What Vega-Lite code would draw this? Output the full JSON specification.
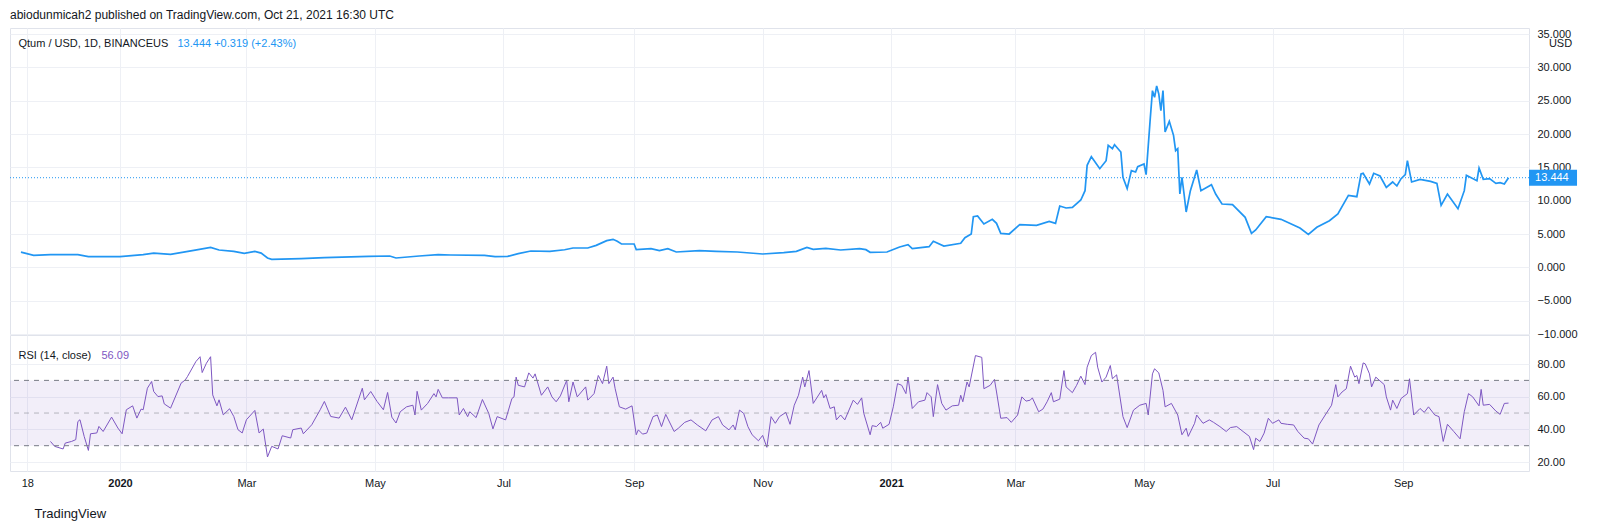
{
  "$schema": "https://vega.github.io/schema/vega-lite/v6.json",
  "background": "#ffffff",
  "padding": {"left": 9, "top": 8, "right": 0, "bottom": 0},
  "bounds": "flush",
  "spacing": 1,
  "title": {"text": "abiodunmicah2 published on TradingView.com, Oct 21, 2021 16:30 UTC", "anchor": "start", "fontSize": 12, "fontWeight": "normal", "color": "#131722", "offset": 6, "dx": 1},
  "config": {
    "font": "Liberation Sans",
    "view": {"stroke": "#e0e3eb", "strokeWidth": 1},
    "axis": {"gridColor": "#eef0f5", "gridWidth": 1, "labelColor": "#131722", "labelFontSize": 11, "labelFont": "Liberation Sans", "titleFont": "Liberation Sans", "ticks": false, "domain": false, "labelOverlap": false}
  },
  "datasets": {
    "price": [
      {"d": "2019-11-15", "p": 2.29}, {"d": "2019-11-21", "p": 1.8}, {"d": "2019-11-29", "p": 1.9}, {"d": "2019-12-12", "p": 1.9}, {"d": "2019-12-17", "p": 1.6},
      {"d": "2020-01-01", "p": 1.6}, {"d": "2020-01-12", "p": 1.9}, {"d": "2020-01-17", "p": 2.14}, {"d": "2020-01-25", "p": 1.95}, {"d": "2020-02-05", "p": 2.54},
      {"d": "2020-02-13", "p": 3.0}, {"d": "2020-02-17", "p": 2.6}, {"d": "2020-02-24", "p": 2.4}, {"d": "2020-02-29", "p": 2.1}, {"d": "2020-03-05", "p": 2.4},
      {"d": "2020-03-08", "p": 2.14}, {"d": "2020-03-11", "p": 1.4}, {"d": "2020-03-13", "p": 1.2}, {"d": "2020-03-27", "p": 1.3}, {"d": "2020-04-07", "p": 1.45},
      {"d": "2020-04-28", "p": 1.65}, {"d": "2020-05-08", "p": 1.7}, {"d": "2020-05-11", "p": 1.4}, {"d": "2020-05-22", "p": 1.7}, {"d": "2020-05-31", "p": 1.9},
      {"d": "2020-06-06", "p": 1.85}, {"d": "2020-06-22", "p": 1.8}, {"d": "2020-06-27", "p": 1.6}, {"d": "2020-07-03", "p": 1.65}, {"d": "2020-07-08", "p": 2.05},
      {"d": "2020-07-14", "p": 2.45}, {"d": "2020-07-23", "p": 2.4}, {"d": "2020-07-30", "p": 2.64}, {"d": "2020-08-03", "p": 2.9}, {"d": "2020-08-10", "p": 2.9},
      {"d": "2020-08-14", "p": 3.3}, {"d": "2020-08-19", "p": 4.0}, {"d": "2020-08-22", "p": 4.2}, {"d": "2020-08-24", "p": 3.9}, {"d": "2020-08-26", "p": 3.5},
      {"d": "2020-09-01", "p": 3.5}, {"d": "2020-09-02", "p": 2.65}, {"d": "2020-09-09", "p": 2.8}, {"d": "2020-09-13", "p": 2.5}, {"d": "2020-09-17", "p": 2.8},
      {"d": "2020-09-21", "p": 2.3}, {"d": "2020-10-02", "p": 2.5}, {"d": "2020-10-10", "p": 2.4}, {"d": "2020-10-20", "p": 2.3}, {"d": "2020-11-01", "p": 2.0},
      {"d": "2020-11-11", "p": 2.2}, {"d": "2020-11-17", "p": 2.4}, {"d": "2020-11-22", "p": 3.0}, {"d": "2020-11-25", "p": 2.7}, {"d": "2020-12-01", "p": 2.85},
      {"d": "2020-12-08", "p": 2.6}, {"d": "2020-12-17", "p": 2.8}, {"d": "2020-12-20", "p": 2.65}, {"d": "2020-12-22", "p": 2.25}, {"d": "2020-12-30", "p": 2.3},
      {"d": "2021-01-05", "p": 3.05}, {"d": "2021-01-09", "p": 3.4}, {"d": "2021-01-11", "p": 2.8}, {"d": "2021-01-19", "p": 3.1}, {"d": "2021-01-21", "p": 3.9},
      {"d": "2021-01-26", "p": 3.2}, {"d": "2021-02-03", "p": 3.6}, {"d": "2021-02-05", "p": 4.45}, {"d": "2021-02-08", "p": 5.0}, {"d": "2021-02-09", "p": 7.6},
      {"d": "2021-02-11", "p": 7.7}, {"d": "2021-02-14", "p": 6.5}, {"d": "2021-02-18", "p": 7.2}, {"d": "2021-02-20", "p": 6.6}, {"d": "2021-02-22", "p": 5.1},
      {"d": "2021-02-26", "p": 5.0}, {"d": "2021-03-03", "p": 6.4}, {"d": "2021-03-11", "p": 6.3}, {"d": "2021-03-17", "p": 6.9}, {"d": "2021-03-20", "p": 6.6},
      {"d": "2021-03-22", "p": 9.2}, {"d": "2021-03-25", "p": 8.9}, {"d": "2021-03-28", "p": 9.0}, {"d": "2021-04-01", "p": 10.1}, {"d": "2021-04-03", "p": 11.5},
      {"d": "2021-04-04", "p": 15.3}, {"d": "2021-04-06", "p": 16.6}, {"d": "2021-04-10", "p": 14.8}, {"d": "2021-04-13", "p": 16.0}, {"d": "2021-04-14", "p": 18.3},
      {"d": "2021-04-16", "p": 17.8}, {"d": "2021-04-17", "p": 18.4}, {"d": "2021-04-20", "p": 17.3}, {"d": "2021-04-21", "p": 13.5}, {"d": "2021-04-23", "p": 11.8},
      {"d": "2021-04-25", "p": 14.5}, {"d": "2021-04-27", "p": 14.3}, {"d": "2021-04-28", "p": 15.1}, {"d": "2021-05-01", "p": 15.5}, {"d": "2021-05-02", "p": 13.9},
      {"d": "2021-05-04", "p": 22.5}, {"d": "2021-05-05", "p": 26.5}, {"d": "2021-05-06", "p": 25.5}, {"d": "2021-05-07", "p": 27.2}, {"d": "2021-05-08", "p": 26.0},
      {"d": "2021-05-09", "p": 23.5}, {"d": "2021-05-10", "p": 26.5}, {"d": "2021-05-11", "p": 20.3}, {"d": "2021-05-13", "p": 21.9}, {"d": "2021-05-15", "p": 19.8},
      {"d": "2021-05-16", "p": 17.5}, {"d": "2021-05-17", "p": 17.8}, {"d": "2021-05-18", "p": 11.0}, {"d": "2021-05-19", "p": 13.5}, {"d": "2021-05-20", "p": 11.0},
      {"d": "2021-05-21", "p": 8.3}, {"d": "2021-05-23", "p": 11.5}, {"d": "2021-05-26", "p": 14.6}, {"d": "2021-05-28", "p": 11.5}, {"d": "2021-06-02", "p": 12.4},
      {"d": "2021-06-04", "p": 11.0}, {"d": "2021-06-07", "p": 9.5}, {"d": "2021-06-12", "p": 9.4}, {"d": "2021-06-18", "p": 7.5}, {"d": "2021-06-21", "p": 5.1},
      {"d": "2021-06-23", "p": 5.6}, {"d": "2021-06-28", "p": 7.6}, {"d": "2021-07-05", "p": 7.2}, {"d": "2021-07-14", "p": 5.9}, {"d": "2021-07-18", "p": 4.95},
      {"d": "2021-07-22", "p": 6.0}, {"d": "2021-07-28", "p": 7.0}, {"d": "2021-08-01", "p": 8.0}, {"d": "2021-08-06", "p": 10.8}, {"d": "2021-08-10", "p": 10.6},
      {"d": "2021-08-12", "p": 14.0}, {"d": "2021-08-13", "p": 14.1}, {"d": "2021-08-16", "p": 12.5}, {"d": "2021-08-18", "p": 14.1}, {"d": "2021-08-21", "p": 13.7},
      {"d": "2021-08-24", "p": 12.0}, {"d": "2021-08-27", "p": 12.8}, {"d": "2021-08-29", "p": 12.2}, {"d": "2021-08-31", "p": 13.3}, {"d": "2021-09-02", "p": 13.9},
      {"d": "2021-09-03", "p": 16.0}, {"d": "2021-09-05", "p": 12.8}, {"d": "2021-09-09", "p": 13.2}, {"d": "2021-09-14", "p": 12.9}, {"d": "2021-09-17", "p": 12.6},
      {"d": "2021-09-19", "p": 9.3}, {"d": "2021-09-22", "p": 11.0}, {"d": "2021-09-27", "p": 8.8}, {"d": "2021-09-30", "p": 11.5}, {"d": "2021-10-01", "p": 13.8},
      {"d": "2021-10-06", "p": 13.0}, {"d": "2021-10-07", "p": 14.9}, {"d": "2021-10-09", "p": 13.2}, {"d": "2021-10-12", "p": 13.3}, {"d": "2021-10-15", "p": 12.6},
      {"d": "2021-10-17", "p": 12.7}, {"d": "2021-10-19", "p": 12.5}, {"d": "2021-10-21", "p": 13.444}
    ],
    "rsi": [
      {"d": "2019-11-29", "r": 32.6}, {"d": "2019-12-01", "r": 29.6}, {"d": "2019-12-05", "r": 28.0}, {"d": "2019-12-06", "r": 31.6}, {"d": "2019-12-09", "r": 32.6},
      {"d": "2019-12-11", "r": 33.7}, {"d": "2019-12-12", "r": 44.8}, {"d": "2019-12-13", "r": 45.9}, {"d": "2019-12-15", "r": 35.7}, {"d": "2019-12-17", "r": 27.1},
      {"d": "2019-12-18", "r": 37.3}, {"d": "2019-12-21", "r": 37.8}, {"d": "2019-12-22", "r": 41.8}, {"d": "2019-12-24", "r": 38.7}, {"d": "2019-12-28", "r": 47.5},
      {"d": "2019-12-31", "r": 40.8}, {"d": "2020-01-02", "r": 37.3}, {"d": "2020-01-04", "r": 52.0}, {"d": "2020-01-07", "r": 54.4}, {"d": "2020-01-09", "r": 46.9},
      {"d": "2020-01-11", "r": 52.4}, {"d": "2020-01-12", "r": 52.0}, {"d": "2020-01-14", "r": 65.2}, {"d": "2020-01-15", "r": 67.3}, {"d": "2020-01-16", "r": 69.3},
      {"d": "2020-01-17", "r": 63.2}, {"d": "2020-01-19", "r": 60.1}, {"d": "2020-01-21", "r": 60.5}, {"d": "2020-01-22", "r": 55.6}, {"d": "2020-01-25", "r": 53.0},
      {"d": "2020-01-30", "r": 68.3}, {"d": "2020-02-01", "r": 70.3}, {"d": "2020-02-02", "r": 72.3}, {"d": "2020-02-06", "r": 81.5}, {"d": "2020-02-08", "r": 84.5},
      {"d": "2020-02-09", "r": 74.8}, {"d": "2020-02-11", "r": 80.5}, {"d": "2020-02-13", "r": 84.5}, {"d": "2020-02-14", "r": 61.1}, {"d": "2020-02-16", "r": 54.4},
      {"d": "2020-02-17", "r": 58.1}, {"d": "2020-02-19", "r": 48.9}, {"d": "2020-02-22", "r": 52.6}, {"d": "2020-02-24", "r": 47.9}, {"d": "2020-02-26", "r": 39.8},
      {"d": "2020-02-28", "r": 37.8}, {"d": "2020-03-01", "r": 45.9}, {"d": "2020-03-05", "r": 51.6}, {"d": "2020-03-07", "r": 37.8}, {"d": "2020-03-09", "r": 40.2},
      {"d": "2020-03-11", "r": 23.1}, {"d": "2020-03-13", "r": 29.6}, {"d": "2020-03-16", "r": 28.0}, {"d": "2020-03-18", "r": 36.1}, {"d": "2020-03-22", "r": 34.7},
      {"d": "2020-03-23", "r": 39.8}, {"d": "2020-03-27", "r": 40.8}, {"d": "2020-03-28", "r": 37.3}, {"d": "2020-04-01", "r": 42.8}, {"d": "2020-04-05", "r": 52.0},
      {"d": "2020-04-07", "r": 57.1}, {"d": "2020-04-10", "r": 47.9}, {"d": "2020-04-14", "r": 46.9}, {"d": "2020-04-17", "r": 53.6}, {"d": "2020-04-20", "r": 45.9},
      {"d": "2020-04-25", "r": 65.2}, {"d": "2020-04-26", "r": 58.1}, {"d": "2020-04-29", "r": 63.2}, {"d": "2020-05-02", "r": 57.1}, {"d": "2020-05-05", "r": 52.0},
      {"d": "2020-05-07", "r": 62.6}, {"d": "2020-05-09", "r": 47.5}, {"d": "2020-05-11", "r": 43.9}, {"d": "2020-05-13", "r": 50.8}, {"d": "2020-05-16", "r": 53.8},
      {"d": "2020-05-19", "r": 54.8}, {"d": "2020-05-20", "r": 48.8}, {"d": "2020-05-21", "r": 63.3}, {"d": "2020-05-23", "r": 51.8}, {"d": "2020-05-26", "r": 55.9},
      {"d": "2020-05-29", "r": 61.9}, {"d": "2020-05-30", "r": 59.9}, {"d": "2020-05-31", "r": 64.5}, {"d": "2020-06-02", "r": 59.3}, {"d": "2020-06-05", "r": 59.3},
      {"d": "2020-06-09", "r": 59.3}, {"d": "2020-06-10", "r": 48.8}, {"d": "2020-06-12", "r": 52.8}, {"d": "2020-06-14", "r": 47.8}, {"d": "2020-06-15", "r": 50.8},
      {"d": "2020-06-18", "r": 47.2}, {"d": "2020-06-21", "r": 58.3}, {"d": "2020-06-24", "r": 49.8}, {"d": "2020-06-26", "r": 40.3}, {"d": "2020-06-28", "r": 47.8},
      {"d": "2020-07-02", "r": 45.8}, {"d": "2020-07-05", "r": 58.9}, {"d": "2020-07-06", "r": 59.9}, {"d": "2020-07-07", "r": 72.0}, {"d": "2020-07-08", "r": 67.0},
      {"d": "2020-07-11", "r": 66.0}, {"d": "2020-07-13", "r": 74.6}, {"d": "2020-07-15", "r": 71.4}, {"d": "2020-07-16", "r": 74.0}, {"d": "2020-07-19", "r": 60.9},
      {"d": "2020-07-22", "r": 66.0}, {"d": "2020-07-24", "r": 59.9}, {"d": "2020-07-26", "r": 56.9}, {"d": "2020-07-28", "r": 60.5}, {"d": "2020-07-31", "r": 70.0},
      {"d": "2020-08-01", "r": 56.9}, {"d": "2020-08-03", "r": 69.0}, {"d": "2020-08-05", "r": 59.9}, {"d": "2020-08-09", "r": 66.0}, {"d": "2020-08-10", "r": 57.9},
      {"d": "2020-08-13", "r": 61.9}, {"d": "2020-08-15", "r": 73.0}, {"d": "2020-08-17", "r": 68.0}, {"d": "2020-08-19", "r": 78.7}, {"d": "2020-08-20", "r": 68.0},
      {"d": "2020-08-22", "r": 72.0}, {"d": "2020-08-23", "r": 64.9}, {"d": "2020-08-25", "r": 53.8}, {"d": "2020-08-28", "r": 52.4}, {"d": "2020-08-31", "r": 54.4},
      {"d": "2020-09-02", "r": 36.7}, {"d": "2020-09-03", "r": 39.7}, {"d": "2020-09-05", "r": 37.1}, {"d": "2020-09-07", "r": 37.7}, {"d": "2020-09-10", "r": 47.8},
      {"d": "2020-09-12", "r": 48.8}, {"d": "2020-09-14", "r": 41.7}, {"d": "2020-09-16", "r": 49.2}, {"d": "2020-09-20", "r": 38.7}, {"d": "2020-09-22", "r": 40.7},
      {"d": "2020-09-25", "r": 44.3}, {"d": "2020-09-28", "r": 45.8}, {"d": "2020-10-01", "r": 42.7}, {"d": "2020-10-05", "r": 39.1}, {"d": "2020-10-08", "r": 45.8},
      {"d": "2020-10-11", "r": 47.8}, {"d": "2020-10-13", "r": 42.7}, {"d": "2020-10-16", "r": 39.7}, {"d": "2020-10-18", "r": 42.7}, {"d": "2020-10-19", "r": 39.7},
      {"d": "2020-10-21", "r": 51.8}, {"d": "2020-10-23", "r": 49.8}, {"d": "2020-10-25", "r": 41.7}, {"d": "2020-10-27", "r": 36.7}, {"d": "2020-10-30", "r": 33.0},
      {"d": "2020-11-01", "r": 36.3}, {"d": "2020-11-03", "r": 29.0}, {"d": "2020-11-05", "r": 47.8}, {"d": "2020-11-07", "r": 43.7}, {"d": "2020-11-09", "r": 47.8},
      {"d": "2020-11-12", "r": 50.4}, {"d": "2020-11-14", "r": 43.1}, {"d": "2020-11-16", "r": 54.8}, {"d": "2020-11-18", "r": 60.9}, {"d": "2020-11-20", "r": 72.0},
      {"d": "2020-11-21", "r": 66.0}, {"d": "2020-11-23", "r": 76.0}, {"d": "2020-11-25", "r": 55.9}, {"d": "2020-11-29", "r": 63.9}, {"d": "2020-11-30", "r": 59.3},
      {"d": "2020-12-01", "r": 61.3}, {"d": "2020-12-03", "r": 52.8}, {"d": "2020-12-05", "r": 53.8}, {"d": "2020-12-06", "r": 45.8}, {"d": "2020-12-08", "r": 48.8},
      {"d": "2020-12-10", "r": 45.8}, {"d": "2020-12-14", "r": 57.9}, {"d": "2020-12-16", "r": 55.3}, {"d": "2020-12-18", "r": 59.3}, {"d": "2020-12-19", "r": 49.8},
      {"d": "2020-12-22", "r": 36.7}, {"d": "2020-12-23", "r": 42.3}, {"d": "2020-12-25", "r": 41.7}, {"d": "2020-12-27", "r": 44.3}, {"d": "2020-12-28", "r": 40.7},
      {"d": "2020-12-31", "r": 43.1}, {"d": "2021-01-02", "r": 53.8}, {"d": "2021-01-04", "r": 68.0}, {"d": "2021-01-06", "r": 67.0}, {"d": "2021-01-08", "r": 61.9},
      {"d": "2021-01-09", "r": 72.0}, {"d": "2021-01-11", "r": 52.8}, {"d": "2021-01-14", "r": 56.9}, {"d": "2021-01-17", "r": 57.9}, {"d": "2021-01-18", "r": 62.5},
      {"d": "2021-01-20", "r": 59.9}, {"d": "2021-01-21", "r": 47.8}, {"d": "2021-01-23", "r": 67.4}, {"d": "2021-01-25", "r": 55.9}, {"d": "2021-01-27", "r": 51.8},
      {"d": "2021-01-30", "r": 54.4}, {"d": "2021-02-02", "r": 54.8}, {"d": "2021-02-03", "r": 60.9}, {"d": "2021-02-04", "r": 56.9}, {"d": "2021-02-06", "r": 69.0},
      {"d": "2021-02-07", "r": 66.0}, {"d": "2021-02-10", "r": 85.2}, {"d": "2021-02-13", "r": 84.1}, {"d": "2021-02-14", "r": 64.9}, {"d": "2021-02-17", "r": 67.0},
      {"d": "2021-02-19", "r": 70.6}, {"d": "2021-02-20", "r": 62.9}, {"d": "2021-02-22", "r": 46.8}, {"d": "2021-02-25", "r": 47.2}, {"d": "2021-02-27", "r": 44.3},
      {"d": "2021-03-02", "r": 48.8}, {"d": "2021-03-04", "r": 59.9}, {"d": "2021-03-06", "r": 57.3}, {"d": "2021-03-08", "r": 57.9}, {"d": "2021-03-09", "r": 59.3},
      {"d": "2021-03-12", "r": 50.8}, {"d": "2021-03-14", "r": 52.4}, {"d": "2021-03-16", "r": 56.9}, {"d": "2021-03-18", "r": 62.5}, {"d": "2021-03-19", "r": 56.9},
      {"d": "2021-03-22", "r": 58.5}, {"d": "2021-03-24", "r": 76.0}, {"d": "2021-03-25", "r": 66.0}, {"d": "2021-03-28", "r": 62.5}, {"d": "2021-03-30", "r": 67.0},
      {"d": "2021-04-01", "r": 72.6}, {"d": "2021-04-03", "r": 67.4}, {"d": "2021-04-04", "r": 78.1}, {"d": "2021-04-06", "r": 85.2}, {"d": "2021-04-08", "r": 87.2},
      {"d": "2021-04-09", "r": 78.1}, {"d": "2021-04-11", "r": 69.0}, {"d": "2021-04-13", "r": 72.0}, {"d": "2021-04-15", "r": 79.1}, {"d": "2021-04-16", "r": 71.0},
      {"d": "2021-04-18", "r": 73.4}, {"d": "2021-04-21", "r": 47.8}, {"d": "2021-04-23", "r": 41.1}, {"d": "2021-04-26", "r": 51.8}, {"d": "2021-04-29", "r": 54.8},
      {"d": "2021-05-02", "r": 55.9}, {"d": "2021-05-03", "r": 48.8}, {"d": "2021-05-05", "r": 74.0}, {"d": "2021-05-06", "r": 77.1}, {"d": "2021-05-08", "r": 74.6},
      {"d": "2021-05-10", "r": 63.9}, {"d": "2021-05-11", "r": 53.8}, {"d": "2021-05-14", "r": 55.9}, {"d": "2021-05-17", "r": 48.8}, {"d": "2021-05-19", "r": 36.7},
      {"d": "2021-05-21", "r": 40.7}, {"d": "2021-05-22", "r": 35.7}, {"d": "2021-05-25", "r": 43.7}, {"d": "2021-05-26", "r": 48.8}, {"d": "2021-05-29", "r": 43.7},
      {"d": "2021-06-01", "r": 45.8}, {"d": "2021-06-03", "r": 44.3}, {"d": "2021-06-06", "r": 41.7}, {"d": "2021-06-09", "r": 38.7}, {"d": "2021-06-11", "r": 41.1},
      {"d": "2021-06-14", "r": 41.7}, {"d": "2021-06-17", "r": 38.7}, {"d": "2021-06-20", "r": 35.7}, {"d": "2021-06-22", "r": 27.6}, {"d": "2021-06-23", "r": 34.6},
      {"d": "2021-06-25", "r": 32.6}, {"d": "2021-06-27", "r": 37.7}, {"d": "2021-06-29", "r": 46.8}, {"d": "2021-07-01", "r": 43.7}, {"d": "2021-07-04", "r": 45.8},
      {"d": "2021-07-05", "r": 43.7}, {"d": "2021-07-08", "r": 43.1}, {"d": "2021-07-11", "r": 42.7}, {"d": "2021-07-13", "r": 38.7}, {"d": "2021-07-16", "r": 34.6},
      {"d": "2021-07-18", "r": 34.2}, {"d": "2021-07-20", "r": 31.0}, {"d": "2021-07-23", "r": 42.7}, {"d": "2021-07-26", "r": 48.8}, {"d": "2021-07-29", "r": 54.8},
      {"d": "2021-07-31", "r": 67.4}, {"d": "2021-08-01", "r": 59.9}, {"d": "2021-08-03", "r": 62.9}, {"d": "2021-08-05", "r": 64.9}, {"d": "2021-08-07", "r": 78.7},
      {"d": "2021-08-09", "r": 72.0}, {"d": "2021-08-10", "r": 73.0}, {"d": "2021-08-11", "r": 68.0}, {"d": "2021-08-13", "r": 80.7}, {"d": "2021-08-14", "r": 80.1},
      {"d": "2021-08-16", "r": 74.0}, {"d": "2021-08-17", "r": 66.0}, {"d": "2021-08-19", "r": 72.0}, {"d": "2021-08-23", "r": 67.4}, {"d": "2021-08-24", "r": 59.9},
      {"d": "2021-08-26", "r": 51.8}, {"d": "2021-08-27", "r": 57.9}, {"d": "2021-08-29", "r": 52.8}, {"d": "2021-08-31", "r": 58.9}, {"d": "2021-09-03", "r": 61.9},
      {"d": "2021-09-04", "r": 71.0}, {"d": "2021-09-06", "r": 48.8}, {"d": "2021-09-09", "r": 52.8}, {"d": "2021-09-11", "r": 50.4}, {"d": "2021-09-13", "r": 53.8},
      {"d": "2021-09-16", "r": 48.8}, {"d": "2021-09-18", "r": 47.8}, {"d": "2021-09-20", "r": 32.6}, {"d": "2021-09-22", "r": 43.1}, {"d": "2021-09-25", "r": 38.7},
      {"d": "2021-09-28", "r": 34.2}, {"d": "2021-09-30", "r": 50.8}, {"d": "2021-10-02", "r": 61.9}, {"d": "2021-10-04", "r": 59.9}, {"d": "2021-10-07", "r": 54.4},
      {"d": "2021-10-08", "r": 64.5}, {"d": "2021-10-09", "r": 54.8}, {"d": "2021-10-12", "r": 55.3}, {"d": "2021-10-15", "r": 51.2}, {"d": "2021-10-17", "r": 49.2},
      {"d": "2021-10-19", "r": 55.9}, {"d": "2021-10-21", "r": 56.09}
    ],
    "one": [{"k": 1}]
  },
  "vconcat": [
    {
      "width": 1519,
      "height": 306,
      "title": {"text": "Qtum / USD, 1D, BINANCEUS", "anchor": "start", "offset": -21, "dx": 9, "fontSize": 11, "fontWeight": "normal", "color": "#131722"},
      "encoding": {
        "y": {
          "type": "quantitative",
          "scale": {"domain": [-10, 35.9], "nice": false, "zero": false},
          "axis": {
            "orient": "right", "grid": true, "tickCount": 10, "values": [-10, -5, 0, 5, 10, 15, 20, 25, 30, 35], "format": ".3f", "labelPadding": 8, "labelOverlap": false,
            "title": "USD", "titleAngle": 0, "titleX": 31, "titleY": 15, "titleAlign": "center", "titleBaseline": "middle", "titleFontSize": 11, "titleFontWeight": "normal", "titleColor": "#131722"
          }
        }
      },
      "layer": [
        {
          "data": {"name": "price"},
          "mark": {"type": "line", "color": "#2196f3", "strokeWidth": 1.7},
          "encoding": {
            "x": {
              "field": "d", "type": "temporal",
              "scale": {"type": "utc", "domain": [{"year": 2019, "month": 11, "date": 9, "hours": 19, "utc": true}, {"year": 2021, "month": 10, "date": 30, "hours": 17, "utc": true}]},
              "axis": {
                "orient": "top", "labels": false, "grid": true,
                "values": [{"year": 2019, "month": 11, "date": 18, "utc": true}, {"year": 2020, "month": 1, "date": 1, "utc": true}, {"year": 2020, "month": 3, "date": 1, "utc": true}, {"year": 2020, "month": 5, "date": 1, "utc": true}, {"year": 2020, "month": 7, "date": 1, "utc": true}, {"year": 2020, "month": 9, "date": 1, "utc": true}, {"year": 2020, "month": 11, "date": 1, "utc": true}, {"year": 2021, "month": 1, "date": 1, "utc": true}, {"year": 2021, "month": 3, "date": 1, "utc": true}, {"year": 2021, "month": 5, "date": 1, "utc": true}, {"year": 2021, "month": 7, "date": 1, "utc": true}, {"year": 2021, "month": 9, "date": 1, "utc": true}],
                "title": "13.444  +0.319 (+2.43%)", "titleColor": "#2196f3", "titleFontSize": 11, "titleFontWeight": "normal",
                "titleX": 167, "titleY": 15, "titleAlign": "left", "titleBaseline": "middle", "titleAngle": 0
              }
            },
            "y": {"field": "p"}
          }
        },
        {
          "data": {"name": "one"},
          "mark": {"type": "rule", "color": "#2196f3", "strokeDash": [1, 2], "strokeWidth": 1},
          "encoding": {"y": {"datum": 13.444}}
        },
        {
          "data": {"name": "one"},
          "mark": {"type": "rect", "color": "#2196f3", "clip": false},
          "encoding": {
            "x": {"datum": {"year": 2021, "month": 10, "date": 30, "hours": 17, "utc": true}},
            "x2": {"datum": {"year": 2021, "month": 11, "date": 22, "hours": 12, "utc": true}},
            "y": {"datum": 14.64},
            "y2": {"datum": 12.25}
          }
        },
        {
          "data": {"name": "one"},
          "mark": {"type": "text", "color": "#ffffff", "fontSize": 11, "align": "center", "baseline": "middle", "clip": false},
          "encoding": {
            "x": {"datum": {"year": 2021, "month": 11, "date": 10, "hours": 14, "utc": true}},
            "y": {"datum": 13.444},
            "text": {"value": "13.444"}
          }
        }
      ]
    },
    {
      "width": 1519,
      "height": 136,
      "title": {"text": "RSI (14, close)", "anchor": "start", "offset": -26, "dx": 9, "fontSize": 11, "fontWeight": "normal", "color": "#131722"},
      "layer": [
        {
          "data": {"name": "one"},
          "mark": {"type": "rect", "color": "#7e57c2", "opacity": 0.1},
          "encoding": {"y": {"datum": 70, "type": "quantitative", "scale": {"domain": [14.5, 97.8], "nice": false, "zero": false}}, "y2": {"datum": 30}}
        },
        {
          "data": {"name": "rsi"},
          "mark": {"type": "line", "color": "#7e57c2", "strokeWidth": 1},
          "encoding": {
            "x": {
              "field": "d", "type": "temporal",
              "scale": {"type": "utc", "domain": [{"year": 2019, "month": 11, "date": 9, "hours": 19, "utc": true}, {"year": 2021, "month": 10, "date": 30, "hours": 17, "utc": true}]},
              "axis": {
                "orient": "bottom", "grid": true, "labelPadding": 6, "labelFlush": false,
                "values": [{"year": 2019, "month": 11, "date": 18, "utc": true}, {"year": 2020, "month": 1, "date": 1, "utc": true}, {"year": 2020, "month": 3, "date": 1, "utc": true}, {"year": 2020, "month": 5, "date": 1, "utc": true}, {"year": 2020, "month": 7, "date": 1, "utc": true}, {"year": 2020, "month": 9, "date": 1, "utc": true}, {"year": 2020, "month": 11, "date": 1, "utc": true}, {"year": 2021, "month": 1, "date": 1, "utc": true}, {"year": 2021, "month": 3, "date": 1, "utc": true}, {"year": 2021, "month": 5, "date": 1, "utc": true}, {"year": 2021, "month": 7, "date": 1, "utc": true}, {"year": 2021, "month": 9, "date": 1, "utc": true}],
                "labelExpr": "utcdate(datum.value) != 1 ? utcFormat(datum.value, '%d') : (utcmonth(datum.value) == 0 ? utcFormat(datum.value, '%Y') : utcFormat(datum.value, '%b'))",
                "labelFontWeight": {"condition": {"test": "utcmonth(datum.value) == 0 && utcdate(datum.value) == 1", "value": "bold"}, "value": "normal"},
                "title": "TradingView", "titleFontSize": 13, "titleFontWeight": "normal", "titleColor": "#131722",
                "titleX": 24, "titleY": 42, "titleAlign": "left", "titleBaseline": "middle", "titleAngle": 0
              }
            },
            "y": {
              "field": "r", "type": "quantitative",
              "scale": {"domain": [14.5, 97.8], "nice": false, "zero": false},
              "axis": {
                "orient": "right", "grid": true, "values": [20, 40, 60, 80], "format": ".2f", "labelPadding": 8, "labelOverlap": false,
                "title": "56.09", "titleColor": "#7e57c2", "titleFontSize": 11, "titleFontWeight": "normal", "titleAngle": 0,
                "titleX": -1428, "titleY": 20, "titleAlign": "left", "titleBaseline": "middle"
              }
            }
          }
        },
        {
          "data": {"name": "one"},
          "mark": {"type": "rule", "color": "#787b86", "strokeDash": [5, 5], "strokeWidth": 1},
          "encoding": {"y": {"datum": 70}}
        },
        {
          "data": {"name": "one"},
          "mark": {"type": "rule", "color": "#787b86", "strokeDash": [5, 5], "strokeWidth": 1},
          "encoding": {"y": {"datum": 30}}
        },
        {
          "data": {"name": "one"},
          "mark": {"type": "rule", "color": "#787b86", "strokeDash": [5, 5], "strokeWidth": 1, "opacity": 0.5},
          "encoding": {"y": {"datum": 50}}
        }
      ]
    }
  ]
}
